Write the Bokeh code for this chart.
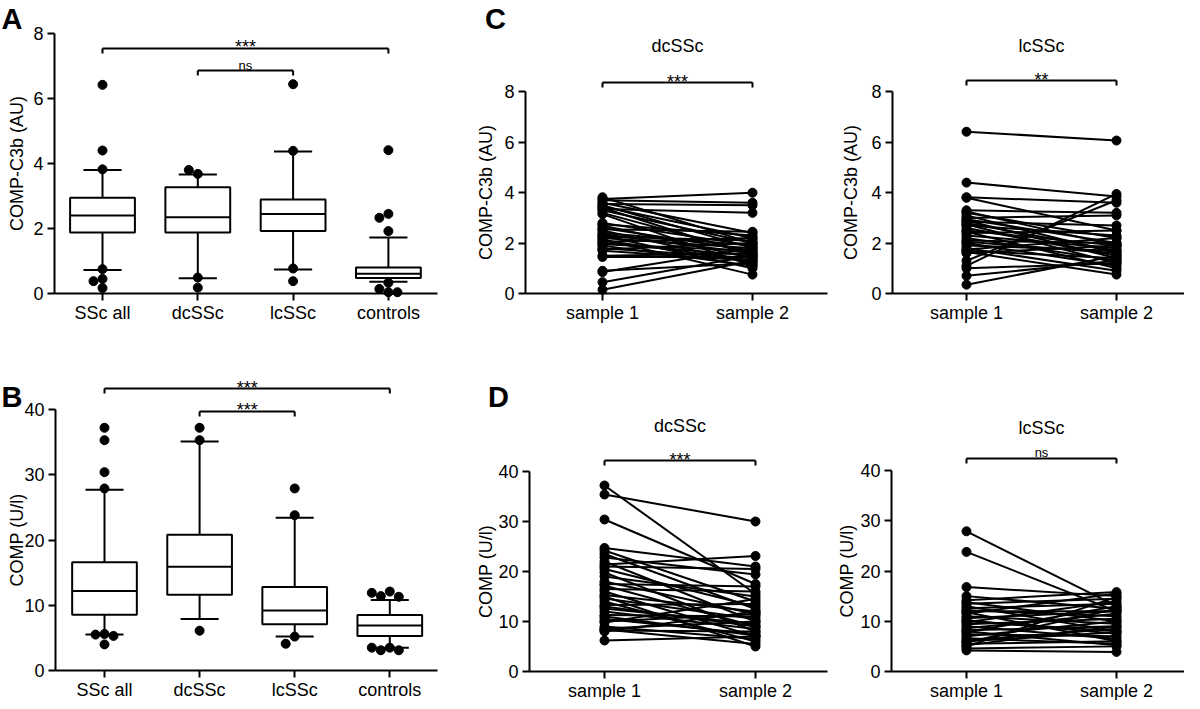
from bokeh.plotting import figure
from bokeh.layouts import row, column
from bokeh.models import FixedTicker, Label, LinearAxis
from bokeh.embed import file_html
from bokeh.resources import INLINE

FONT = "Liberation Sans"

# ---------------- data ----------------
groups = ["SSc all", "dcSSc", "lcSSc", "controls"]
samples = ["sample 1", "sample 2"]

# Panel A: COMP-C3b (AU) box plots
a_q1 = [1.88, 1.88, 1.92, 0.48]
a_med = [2.40, 2.35, 2.45, 0.61]
a_q3 = [2.95, 3.27, 2.89, 0.80]
a_lo = [0.72, 0.47, 0.74, 0.36]
a_hi = [3.80, 3.66, 4.37, 1.72]
a_out = [[6.42, 4.40, 3.82, 0.75, 0.45, 0.38, 0.17],
         [3.68, 3.80, 0.49, 0.18],
         [6.44, 4.39, 0.77, 0.38],
         [4.41, 2.45, 2.33, 1.92, 0.33, 0.14, 0.04, 0.04]]

# Panel B: COMP (U/l) box plots
b_q1 = [8.56, 11.6, 7.1, 5.3]
b_med = [12.2, 15.9, 9.2, 6.9]
b_q3 = [16.6, 20.8, 12.8, 8.5]
b_lo = [5.5, 7.9, 5.2, 3.5]
b_hi = [27.7, 35.1, 23.4, 10.8]
b_out = [[37.2, 35.3, 30.4, 27.9, 5.6, 5.5, 5.3, 4.0],
         [37.2, 35.3, 6.1],
         [27.9, 23.8, 5.2, 4.1],
         [12.1, 11.4, 11.3, 11.9, 3.5, 3.1, 3.1, 3.5]]

# Panel C: COMP-C3b paired samples
c_dc_s1 = [3.82, 3.75, 3.70, 3.60, 3.55, 3.50, 3.45, 3.40, 3.35, 3.30, 3.20, 3.15, 2.80,
           2.75, 2.70, 2.60, 2.55, 2.50, 2.40, 2.35, 2.30, 2.25, 2.20, 2.15, 2.10, 2.05,
           2.00, 1.95, 1.90, 1.80, 1.75, 1.70, 1.50, 1.45, 0.90, 0.85, 0.45, 0.15]
c_dc_s2 = [2.00, 4.00, 3.60, 2.40, 3.50, 1.80, 2.20, 1.50, 3.20, 2.00, 1.60, 1.10, 1.90,
           2.30, 1.40, 1.70, 2.45, 1.20, 1.90, 1.60, 1.00, 2.10, 1.80, 0.75, 1.30, 2.20,
           1.50, 1.70, 1.10, 1.40, 2.00, 1.30, 1.60, 1.45, 1.20, 1.80, 1.50, 1.30]
c_lc_s1 = [6.42, 4.40, 3.82, 3.80, 3.30, 3.25, 3.20, 3.10, 3.00, 2.95, 2.90, 2.85, 2.80,
           2.75, 2.70, 2.60, 2.50, 2.45, 2.40, 2.30, 2.20, 2.10, 2.05, 2.00, 1.90, 1.80,
           1.75, 1.70, 1.65, 1.60, 1.30, 1.10, 1.00, 0.70, 0.35]
c_lc_s2 = [6.07, 3.85, 3.60, 2.50, 3.20, 1.90, 2.20, 1.60, 3.10, 2.00, 1.40, 2.70, 1.70,
           1.20, 2.30, 1.50, 1.90, 1.00, 2.50, 1.80, 1.30, 2.00, 1.60, 1.10, 1.70, 0.90,
           2.20, 1.40, 0.75, 1.90, 3.70, 3.95, 1.20, 1.30, 1.50]

# Panel D: COMP paired samples
d_dc_s1 = [37.2, 35.4, 30.4, 24.7, 24.2, 23.5, 22.8, 22.0, 21.4, 21.0, 20.5, 19.8, 19.0,
           18.0, 17.5, 17.2, 16.5, 16.0, 15.3, 15.0, 14.6, 14.0, 13.3, 13.0, 12.6, 12.0,
           11.3, 11.0, 10.5, 10.0, 9.8, 9.0, 8.6, 8.4, 8.2, 8.0, 6.2]
d_dc_s2 = [15.5, 30.0, 17.5, 21.0, 14.0, 12.5, 19.4, 10.0, 23.1, 20.5, 13.0, 8.0, 15.0,
           11.5, 17.0, 9.0, 16.0, 7.0, 12.0, 5.0, 10.5, 6.0, 13.5, 9.0, 9.5, 8.5,
           11.0, 7.2, 7.5, 11.5, 14.5, 6.5, 10.0, 5.5, 8.0, 12.0, 7.0]
d_lc_s1 = [27.9, 23.8, 16.8, 15.0, 14.2, 13.8, 13.5, 13.0, 12.6, 12.2, 12.0, 11.8, 11.5,
           11.0, 10.6, 10.2, 10.0, 9.8, 9.4, 9.0, 8.6, 8.2, 8.0, 7.8, 7.4, 7.0, 6.6, 6.2,
           6.0, 5.8, 5.5, 5.2, 5.0, 4.6, 4.2]
d_lc_s2 = [13.0, 12.0, 15.0, 12.5, 15.8, 10.0, 14.5, 8.0, 13.5, 11.0, 12.0, 6.0, 15.5,
           9.5, 12.0, 7.5, 8.0, 14.0, 10.5, 6.5, 11.5, 9.0, 5.2, 13.0, 7.0, 10.0, 5.5, 8.5,
           7.8, 12.5, 6.0, 9.0, 14.8, 5.0, 3.9]


# ---------------- helpers ----------------
class Panel:
    """Maps canvas pixels <-> data for a figure whose frame fills the canvas."""

    def __init__(self, W, H, ppx, ppy, cat1_px, y0_px):
        self.W, self.H, self.ppx, self.ppy = W, H, ppx, ppy
        self.cx, self.y0 = cat1_px, y0_px
        self.xr = (1 - cat1_px / ppx, 1 + (W - cat1_px) / ppx)
        self.yr = (-(H - y0_px) / ppy, y0_px / ppy)

    def x(self, px):
        return 1 + (px - self.cx) / self.ppx

    def y(self, py):
        return (self.y0 - py) / self.ppy


def style_axis(ax):
    ax.axis_line_width = 2
    ax.axis_line_color = "black"
    ax.major_tick_line_width = 2
    ax.major_tick_line_color = "black"
    ax.major_tick_out = 7
    ax.major_tick_in = 0
    ax.minor_tick_line_color = None
    ax.major_label_text_font = FONT
    ax.major_label_text_font_size = "18px"
    ax.major_label_text_color = "black"
    ax.axis_label_text_font = FONT
    ax.axis_label_text_font_size = "18px"
    ax.axis_label_text_font_style = "normal"
    ax.axis_label_text_color = "black"


def make_fig(pn, yaxis_px, xend_px, yticks, ybounds, xlabels, ylabel, lab_standoff):
    p = figure(width=pn.W, height=pn.H, x_range=pn.xr, y_range=pn.yr,
               x_axis_type=None, y_axis_type=None, title=None, min_border=0,
               toolbar_location=None, output_backend="svg", tools="")
    p.outline_line_color = None
    p.background_fill_color = "white"
    p.border_fill_color = "white"
    xa = pn.x(yaxis_px)
    yax = LinearAxis(fixed_location=xa, bounds=ybounds, ticker=FixedTicker(ticks=yticks),
                     axis_label=ylabel)
    style_axis(yax)
    yax.major_label_standoff = 4
    yax.axis_label_standoff = lab_standoff
    p.add_layout(yax, "left")
    n = len(xlabels)
    xax = LinearAxis(fixed_location=0, bounds=(xa, pn.x(xend_px)),
                     ticker=FixedTicker(ticks=list(range(1, n + 1))))
    xax.major_label_overrides = {i + 1: s for i, s in enumerate(xlabels)}
    style_axis(xax)
    xax.major_label_standoff = 2
    p.add_layout(xax, "below")
    return p


def text(p, x, y, s, size, bold=False, align="center", baseline="middle"):
    p.add_layout(Label(x=x, y=y, text=s, text_font=FONT, text_font_size=size,
                       text_font_style="bold" if bold else "normal", text_color="black",
                       text_align=align, text_baseline=baseline))


def bracket(p, pn, x0, x1, y, label, tick_px=5):
    dy = tick_px / pn.ppy
    p.segment(x0=[x0, x0, x1], y0=[y, y, y], x1=[x1, x0, x1], y1=[y, y - dy, y - dy],
              line_color="black", line_width=2)
    if label == "ns":
        text(p, (x0 + x1) / 2, y + 5.5 / pn.ppy, label, "13px", baseline="alphabetic")
    else:
        text(p, (x0 + x1) / 2, y + 1 / pn.ppy, label, "18px", baseline="alphabetic")


def dodge(vals, ppx, ppy, step_px=9, min_px=8):
    placed, offs = [], []
    for v in vals:
        for c in [0, -1, 1, -2, 2, -3, 3]:
            dx = c * step_px
            if all((dx - px) ** 2 + ((v - pv) * ppy) ** 2 >= min_px ** 2 for px, pv in placed):
                break
        placed.append((dx, v))
        offs.append(dx / ppx)
    return offs


def boxplot(p, pn, q1, med, q3, lo, hi, outs, bw=0.68, cw=0.40):
    xs = list(range(1, len(q1) + 1))
    p.segment(x0=xs, y0=q3, x1=xs, y1=hi, line_color="black", line_width=2)
    p.segment(x0=xs, y0=q1, x1=xs, y1=lo, line_color="black", line_width=2)
    p.segment(x0=[x - cw / 2 for x in xs], y0=hi, x1=[x + cw / 2 for x in xs], y1=hi,
              line_color="black", line_width=2)
    p.segment(x0=[x - cw / 2 for x in xs], y0=lo, x1=[x + cw / 2 for x in xs], y1=lo,
              line_color="black", line_width=2)
    p.vbar(x=xs, width=bw, bottom=q1, top=q3, fill_color="white", line_color="black",
           line_width=2)
    p.segment(x0=[x - bw / 2 for x in xs], y0=med, x1=[x + bw / 2 for x in xs], y1=med,
              line_color="black", line_width=2)
    ox, oy = [], []
    for x, vals in zip(xs, outs):
        for v, o in zip(vals, dodge(vals, pn.ppx, pn.ppy)):
            ox.append(x + o)
            oy.append(v)
    p.scatter(ox, oy, size=9, fill_color="black", line_color="black")


def paired(p, s1, s2):
    n = len(s1)
    p.segment(x0=[1] * n, y0=s1, x1=[2] * n, y1=s2, line_color="black", line_width=2)
    p.scatter([1] * n + [2] * n, s1 + s2, size=9, fill_color="black", line_color="black")


H1, H2 = 335, 365

# ---------------- Panel A ----------------
nA = Panel(440, H1, 95.3, 32.5, 102, 293)
pA = make_fig(nA, 54, 437, [0, 2, 4, 6, 8], (0, 8), groups, "COMP-C3b (AU)", 3)
boxplot(pA, nA, a_q1, a_med, a_q3, a_lo, a_hi, a_out)
bracket(pA, nA, 1, 4, 7.54, "***")
bracket(pA, nA, 2, 3, 6.86, "ns")
text(pA, nA.x(1), nA.y(18), "A", "29px", bold=True, align="left")

# ---------------- Panel C ----------------
nC1 = Panel(390, H1, 150, 25.2, 162, 293)
pC1 = make_fig(nC1, 85, 387, [0, 2, 4, 6, 8], (0, 8), samples, "COMP-C3b (AU)", 5)
paired(pC1, c_dc_s1, c_dc_s2)
bracket(pC1, nC1, 1, 2, 8.37, "***")
text(pC1, 1.5, nC1.y(45), "dcSSc", "18px")
text(pC1, nC1.x(55), nC1.y(18), "C", "29px", bold=True)

nC2 = Panel(354, H1, 150, 25.2, 136, 293)
pC2 = make_fig(nC2, 62, 354, [0, 2, 4, 6, 8], (0, 8), samples, "COMP-C3b (AU)", 7)
paired(pC2, c_lc_s1, c_lc_s2)
bracket(pC2, nC2, 1, 2, 8.45, "**")
text(pC2, 1.5, nC2.y(45), "lcSSc", "18px")

# ---------------- Panel B ----------------
nB = Panel(440, H2, 95.1, 6.525, 104, 335)
pB = make_fig(nB, 55, 437, [0, 10, 20, 30, 40], (0, 40), groups, "COMP (U/l)", -6)
boxplot(pB, nB, b_q1, b_med, b_q3, b_lo, b_hi, b_out)
bracket(pB, nB, 1, 4, 43.2, "***")
bracket(pB, nB, 2, 3, 39.7, "***")
text(pB, nB.x(1), nB.y(61), "B", "29px", bold=True, align="left")

# ---------------- Panel D ----------------
nD1 = Panel(390, H2, 151, 5.0, 164, 336)
pD1 = make_fig(nD1, 89, 387, [0, 10, 20, 30, 40], (0, 40), samples, "COMP (U/l)", -1)
paired(pD1, d_dc_s1, d_dc_s2)
bracket(pD1, nD1, 1, 2, 42.2, "***")
text(pD1, 1.5, nD1.y(90), "dcSSc", "18px")
text(pD1, nD1.x(58), nD1.y(61), "D", "29px", bold=True)

nD2 = Panel(354, H2, 150, 5.025, 136, 336)
pD2 = make_fig(nD2, 61, 354, [0, 10, 20, 30, 40], (0, 40), samples, "COMP (U/l)", 0)
paired(pD2, d_lc_s1, d_lc_s2)
bracket(pD2, nD2, 1, 2, 42.4, "ns")
text(pD2, 1.5, nD2.y(92), "lcSSc", "18px")

layout = column(row(pA, pC1, pC2), row(pB, pD1, pD2))
open("out.html", "w").write(file_html(layout, INLINE))
